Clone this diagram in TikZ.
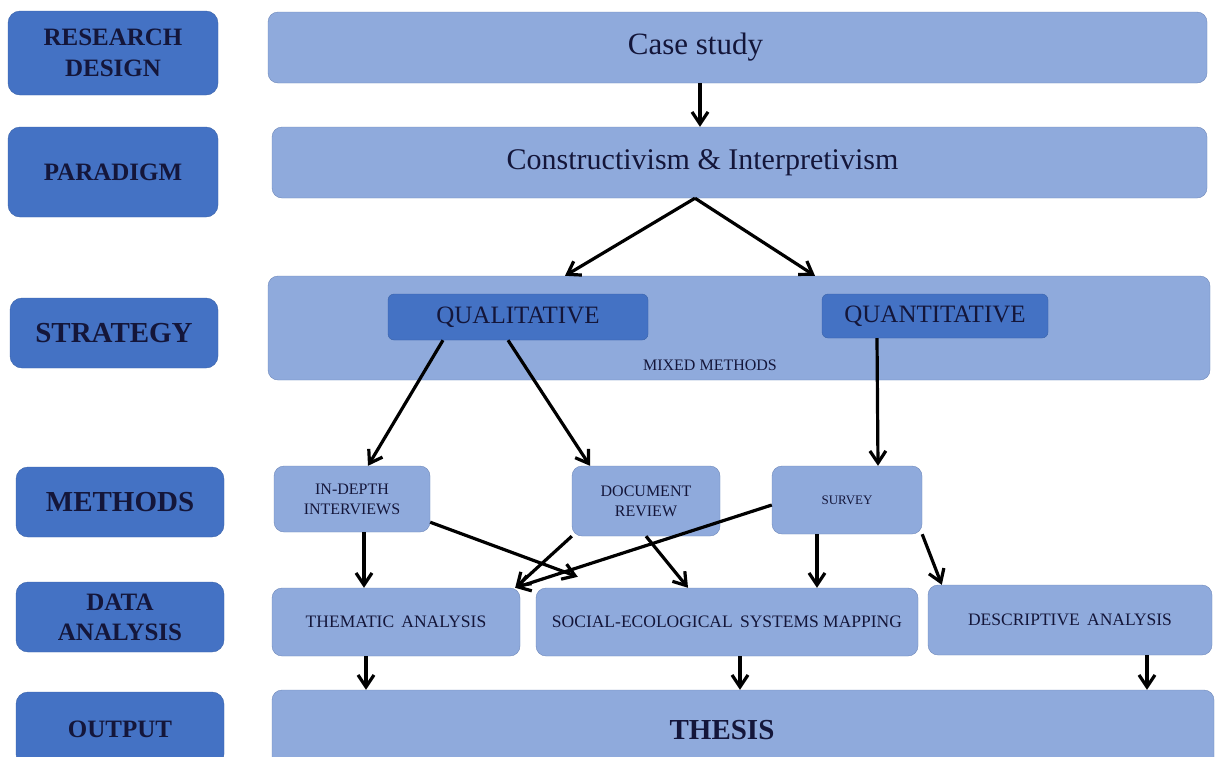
\documentclass[tikz,border=0pt]{standalone}
\usepackage{fontspec}
\setmainfont{Liberation Serif}
\usetikzlibrary{arrows.meta}
\definecolor{darkbox}{HTML}{4472C4}
\definecolor{darkedge}{HTML}{3A62A8}
\definecolor{lightbox}{HTML}{8FAADC}
\definecolor{lightedge}{HTML}{6E88BA}
\definecolor{ink}{HTML}{14163A}
\newcommand{\fs}[1]{\fontsize{#1}{#1}\selectfont}

\begin{document}
\begin{tikzpicture}[x=1pt,y=-1pt,>={Straight Barb[length=12pt,width=16pt]},
  lbl/.style={draw=darkedge,fill=darkbox,rounded corners=12pt,text=ink,align=center,font=\bfseries},
  box/.style={draw=lightedge,fill=lightbox,rounded corners=10pt,text=ink,align=center},
  link/.style={->,line width=3.2pt,black}]
\useasboundingbox (0,0) rectangle (1216,756);
% row labels
\node[lbl,minimum width=210pt,minimum height=84pt,font=\bfseries\fs{25}] (rd) at (113,53) {RESEARCH\\[6pt]DESIGN};
\node[lbl,minimum width=210pt,minimum height=90pt,font=\bfseries\fs{25}] (par) at (113,172) {PARADIGM};
\node[lbl,minimum width=208pt,minimum height=70pt,font=\bfseries\fs{29}] (str) at (114,333) {STRATEGY};
\node[lbl,minimum width=208pt,minimum height=70pt,font=\bfseries\fs{29}] (met) at (120,502) {METHODS};
\node[lbl,minimum width=208pt,minimum height=70pt,font=\bfseries\fs{25}] (da) at (120,617) {DATA\\[5pt]ANALYSIS};
\node[lbl,minimum width=208pt,minimum height=74pt,font=\bfseries\fs{25}] (out) at (120,729) {OUTPUT};
% content
\node[box,minimum width=939pt,minimum height=71pt,font=\fs{31}] (cs) at (737.5,47.5) {\hspace*{-84pt}Case study};
\node[box,minimum width=935pt,minimum height=71pt,font=\fs{30}] (cons) at (739.5,162.5) {\hspace*{-74pt}Constructivism \& Interpretivism};
\node[box,minimum width=942pt,minimum height=104pt] (mix) at (739,328) {};
\node[lbl,rounded corners=6pt,minimum width=260pt,minimum height=46pt,font=\fs{25}] (qual) at (518,317) {QUALITATIVE};
\node[lbl,rounded corners=6pt,minimum width=226pt,minimum height=44pt,font=\fs{25}] (quan) at (935,316) {QUANTITATIVE};
\node[text=ink,font=\fs{16}] (mm) at (710,365) {MIXED METHODS};
\node[box,minimum width=156pt,minimum height=66pt,font=\fs{16}] (idi) at (352,499) {IN-DEPTH\\[4pt]INTERVIEWS};
\node[box,minimum width=148pt,minimum height=70pt,font=\fs{16}] (doc) at (646,501) {DOCUMENT\\[4pt]REVIEW};
\node[box,minimum width=150pt,minimum height=68pt,font=\fs{13}] (sur) at (847,500) {SURVEY};
\node[box,minimum width=248pt,minimum height=68pt,font=\fs{17.5}] (them) at (396,622) {THEMATIC\, ANALYSIS};
\node[box,minimum width=382pt,minimum height=68pt,font=\fs{17.5}] (ses) at (727,622) {SOCIAL-ECOLOGICAL\, SYSTEMS MAPPING};
\node[box,minimum width=284pt,minimum height=70pt,font=\fs{17.5}] (desc) at (1070,620) {DESCRIPTIVE\, ANALYSIS};
\node[box,minimum width=942pt,minimum height=80pt,font=\bfseries\fs{29}] (thesis) at (743,730) {\hspace*{-42pt}THESIS};
% arrows
\draw[link] ([xshift=-37.5]cs.south) -- ([xshift=-39.5]cons.north);
\draw[link] ([xshift=-44.5]cons.south) -- ([xshift=-174]mix.north);
\draw[link] ([xshift=-44.5]cons.south) -- ([xshift=76]mix.north);
\draw[link] ([xshift=-75]qual.south) -- ([xshift=16]idi.north);
\draw[link] ([xshift=-10]qual.south) -- ([xshift=-56]doc.north);
\draw[link] ([xshift=-58]quan.south) -- ([xshift=31]sur.north);
\draw[link] ([xshift=12]idi.south) -- ([xshift=-32]them.north);
\draw[link] ([yshift=10]idi.south east) -- ([xshift=42,yshift=11]ses.north west);
\draw[link] (doc.south west) -- ([xshift=-5]them.north east);
\draw[link] (doc.south) -- ([xshift=-39]ses.north);
\draw[link] ([yshift=-5]sur.west) -- ([xshift=-5]them.north east);
\draw[link] ([xshift=-30]sur.south) -- ([xshift=90]ses.north);
\draw[link] (sur.south east) -- ([xshift=14]desc.north west);
\draw[link] ([xshift=-30]them.south) -- ([xshift=-377]thesis.north);
\draw[link] ([xshift=13]ses.south) -- ([xshift=-3]thesis.north);
\draw[link] ([xshift=77]desc.south) -- ([xshift=404]thesis.north);
\end{tikzpicture}
\end{document}
